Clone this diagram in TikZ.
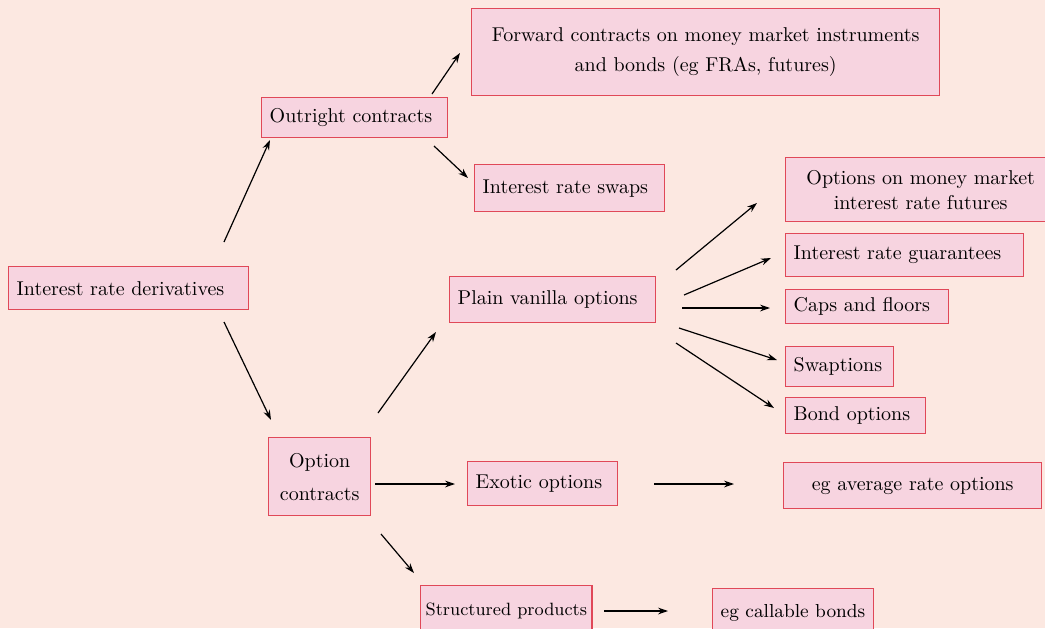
\documentclass[tikz,border=0pt]{standalone}
\usetikzlibrary{arrows.meta}
\definecolor{bgc}{HTML}{FCE8E1}
\definecolor{boxfill}{HTML}{F7D4E0}
\definecolor{boxdraw}{HTML}{E04858}
\begin{document}
\begin{tikzpicture}[x=0.5pt,y=-0.5pt,
  box/.style={draw=boxdraw,fill=boxfill,line width=0.7pt,anchor=north west,
    inner xsep=4pt,inner ysep=0pt,align=left,font=\fontsize{10}{12.5}\selectfont},
  cbox/.style={box,align=center},
  arr/.style={-{Stealth[length=5pt,width=3.4pt]},line width=0.6pt}]
\useasboundingbox[fill=bgc] (0,0) rectangle (1045,628);
\node[box,text width=112pt,minimum height=21.5pt] (deriv) at (8,266) {Interest rate derivatives};
\node[box,text width=85pt,minimum height=20pt] (outright) at (261,97) {Outright contracts};
\node[cbox,text width=226pt,minimum height=43.5pt,font=\fontsize{10}{15}\selectfont] (forward) at (471,8) {Forward contracts on money market instruments\\and bonds (eg FRAs, futures)};
\node[box,text width=87pt,minimum height=23.5pt] (swaps) at (474,164) {Interest rate swaps};
\node[box,text width=95pt,minimum height=23pt] (plain) at (449,276) {Plain vanilla options};
\node[cbox,text width=43pt,minimum height=39pt,font=\fontsize{10}{16.5}\selectfont] (option) at (268,437) {Option\\contracts};
\node[box,text width=67pt,minimum height=22pt] (exotic) at (467,461) {Exotic options};
\node[box,minimum width=81.5pt,minimum height=25pt,inner xsep=2.5pt,font=\fontsize{8.9}{11}\selectfont] (structured) at (420,585) {Structured products};
\node[box,minimum width=76.5pt,minimum height=24pt,font=\fontsize{9.4}{11}\selectfont] (callable) at (712,588) {eg callable bonds};
\node[cbox,text width=121pt,minimum height=23pt] (avg) at (783,462) {eg average rate options};
\node[cbox,text width=127pt,minimum height=32pt] (money) at (785,157) {Options on money market\\interest rate futures};
\node[box,text width=111pt,minimum height=21.5pt] (guar) at (785,233) {Interest rate guarantees};
\node[box,text width=73.5pt,minimum height=17pt] (caps) at (785,289) {Caps and floors};
\node[box,text width=46pt,minimum height=20pt] (swaptions) at (785,346) {Swaptions};
\node[box,text width=62pt,minimum height=18pt] (bond) at (785,397) {Bond options};
% arrow end points (arrows float between the boxes)
\coordinate (d1) at (224,242); \coordinate (o1) at (270,140);
\coordinate (d2) at (224,322); \coordinate (p2) at (271,420);
\coordinate (o3) at (432,94);  \coordinate (f3) at (460,53);
\coordinate (o4) at (434,146); \coordinate (s4) at (468,178);
\coordinate (c5) at (378,413); \coordinate (p5) at (436,332);
\coordinate (c6) at (375,484); \coordinate (e6) at (455,484);
\coordinate (c7) at (381,534); \coordinate (s7) at (414,573);
\coordinate (v8) at (676,270); \coordinate (m8) at (757,203);
\coordinate (v9) at (684,295); \coordinate (g9) at (771,258);
\coordinate (v10) at (682,308); \coordinate (k10) at (770,308);
\coordinate (v11) at (679,328); \coordinate (w11) at (777,360);
\coordinate (v12) at (676,343); \coordinate (b12) at (774,408);
\coordinate (x13) at (654,484); \coordinate (a13) at (734,484);
\coordinate (t14) at (604,611); \coordinate (c14) at (668,611);
\draw[arr] (d1) -- (o1);
\draw[arr] (d2) -- (p2);
\draw[arr] (o3) -- (f3);
\draw[arr] (o4) -- (s4);
\draw[arr] (c5) -- (p5);
\draw[arr] (c6) -- (e6);
\draw[arr] (c7) -- (s7);
\draw[arr] (v8) -- (m8);
\draw[arr] (v9) -- (g9);
\draw[arr] (v10) -- (k10);
\draw[arr] (v11) -- (w11);
\draw[arr] (v12) -- (b12);
\draw[arr] (x13) -- (a13);
\draw[arr] (t14) -- (c14);
\end{tikzpicture}
\end{document}
